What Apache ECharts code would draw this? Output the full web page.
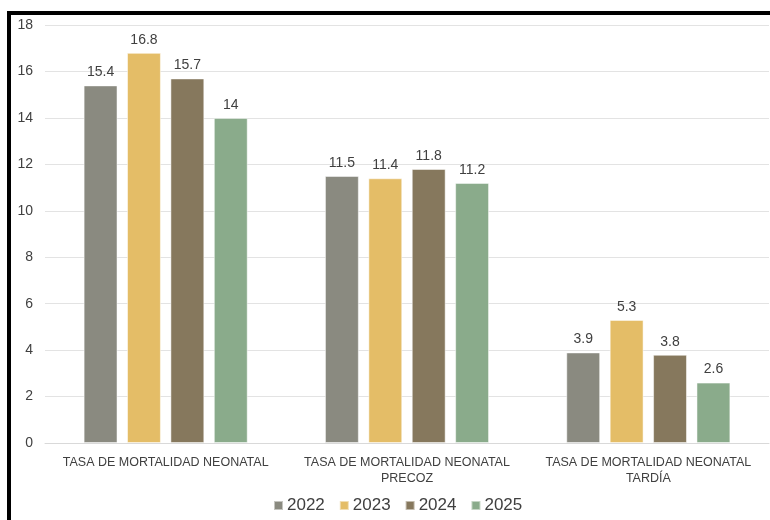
<!DOCTYPE html>
<html>
<head>
<meta charset="utf-8">
<script src="https://cdn.jsdelivr.net/npm/echarts@6/dist/echarts.min.js"></script>
<style>
  html, body { margin: 0; padding: 0; background: #fff; }
  #chart { width: 770px; height: 520px; }
</style>
</head>
<body>
<div id="chart"></div>
<script>
// data
const categories = [
  'TASA DE MORTALIDAD NEONATAL',
  'TASA DE MORTALIDAD NEONATAL\nPRECOZ',
  'TASA DE MORTALIDAD NEONATAL\nTARDÍA'
]
const years = ['2022', '2023', '2024', '2025']
const v2022 = [15.4, 11.5, 3.9]
const v2023 = [16.8, 11.4, 5.3]
const v2024 = [15.7, 11.8, 3.8]
const v2025 = [14, 11.2, 2.6]
const yTicks = [0, 2, 4, 6, 8, 10, 12, 14, 16, 18]

const colors = ['#8a8a80', '#e4bd67', '#86785d', '#8aab8b']
const values = [v2022, v2023, v2024, v2025]
const font = 'Liberation Sans, Arial, sans-serif'

const chart = echarts.init(document.getElementById('chart'))

chart.setOption({
  animation: false,
  color: colors,
  textStyle: { fontFamily: font },
  graphic: [
    {
      type: 'rect',
      shape: { x: 9, y: 13, width: 800, height: 600 },
      style: { fill: 'none', stroke: '#000', lineWidth: 4 },
      z: 100
    }
  ],
  legend: {
    data: years,
    bottom: 1,
    left: 268,
    icon: 'rect',
    itemWidth: 9,
    itemHeight: 9,
    itemGap: 14,
    textStyle: { fontSize: 17, color: '#404040', fontFamily: font, padding: [0, 0, 0, -1] }
  },
  grid: {
    left: 45,
    right: 1,
    top: 25,
    bottom: 77
  },
  xAxis: {
    type: 'category',
    data: categories,
    axisLine: { lineStyle: { color: '#d9d9d9' } },
    axisTick: { show: false },
    axisLabel: {
      color: '#404040',
      fontSize: 12.5,
      lineHeight: 16,
      margin: 12,
      interval: 0
    }
  },
  yAxis: {
    type: 'value',
    min: yTicks[0],
    max: yTicks[yTicks.length - 1],
    interval: 2,
    axisLine: { show: false },
    axisTick: { show: false },
    splitLine: { lineStyle: { color: '#e3e3e3', width: 1 } },
    axisLabel: { color: '#404040', fontSize: 14, margin: 12 }
  },
  series: years.map((y, i) => ({
    name: y,
    type: 'bar',
    data: values[i],
    barGap: '28%',
    barCategoryGap: '32%',
    itemStyle: { borderColor: 'rgba(255,255,255,0.5)', borderWidth: 1 },
    label: {
      show: true,
      position: 'top',
      distance: 6,
      color: '#404040',
      fontSize: 14
    }
  }))
})
</script>
</body>
</html>
